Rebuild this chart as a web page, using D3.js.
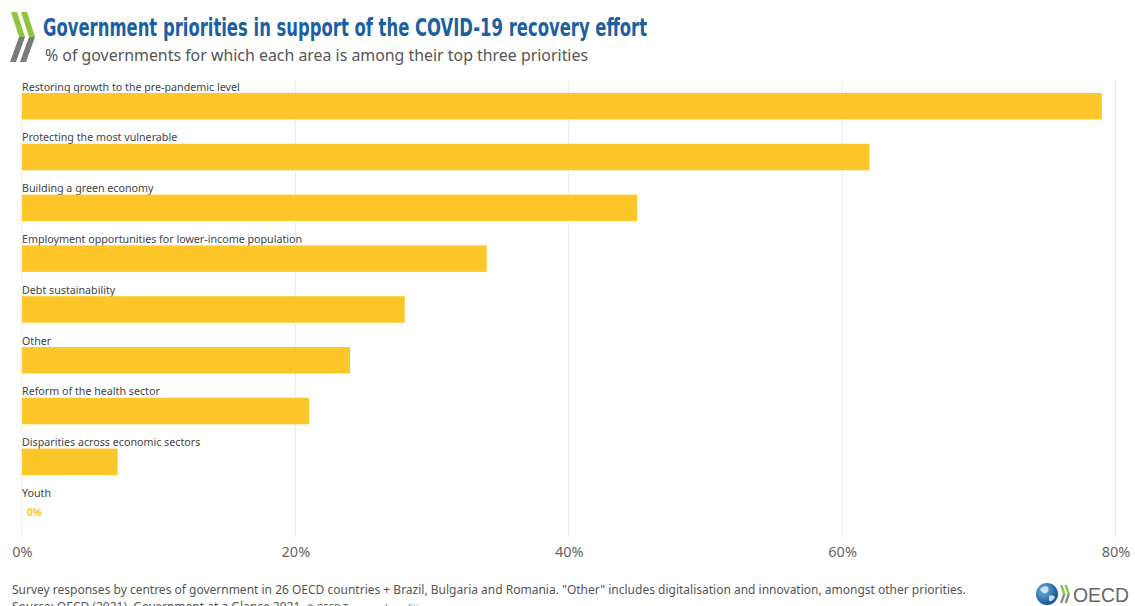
<!DOCTYPE html>
<html lang="en">
<head>
<meta charset="UTF-8">
<title>Government priorities in support of the COVID-19 recovery effort</title>
<script src="https://d3js.org/d3.v7.min.js"></script>
<style>
    body { margin: 0; background: #fff; }
    svg { display: block; }
    .cat { font-family: "Noto Sans", sans-serif; font-size: 10.7px; fill: #444; }
    .tick-label { font-family: "Noto Sans", sans-serif; font-size: 14.5px; fill: #666; }
    .note { font-family: "Noto Sans", sans-serif; font-size: 12px; fill: #555; }
</style>
</head>
<body>
<svg id="chart" width="1135" height="606"></svg>
<script>
    // data (share of governments, %)
    const categories = [
        "Restoring growth to the pre-pandemic level",
        "Protecting the most vulnerable",
        "Building a green economy",
        "Employment opportunities for lower-income population",
        "Debt sustainability",
        "Other",
        "Reform of the health sector",
        "Disparities across economic sectors",
        "Youth"
    ];
    const values = [79, 62, 45, 34, 28, 24, 21, 7, 0];
    const tickValues = [0, 20, 40, 60, 80];

    const titleText = "Government priorities in support of the COVID-19 recovery effort";
    const subtitleText = "% of governments for which each area is among their top three priorities";
    const noteText = "Survey responses by centres of government in 26 OECD countries + Brazil, Bulgaria and Romania. \"Other\" includes digitalisation and innovation, amongst other priorities.";
    const sourceText = "Source: OECD (2021), Government at a Glance 2021.";

    const svg = d3.select("#chart");
    const barColor = "#ffc629";

    const x = d3.scaleLinear().domain([0, 80]).range([22, 1115.5]);
    const y = d3.scaleBand().domain(categories).range([80.5, 537.7]);

    // header logo (two chevrons)
    const logo = svg.append("g");
    [0, 10].forEach(function (dx) {
        logo.append("path")
            .attr("d", `M${11 + dx},12 L${17 + dx},12 L${25 + dx},37 L${19 + dx},37 Z`)
            .attr("fill", "#8cc63f");
        logo.append("path")
            .attr("d", `M${19 + dx},37 L${25 + dx},37 L${16 + dx},62 L${10 + dx},62 Z`)
            .attr("fill", "#7a7a7a");
    });

    svg.append("text")
        .attr("x", 43).attr("y", 36)
        .attr("textLength", 604).attr("lengthAdjust", "spacingAndGlyphs")
        .style("font-family", "'DejaVu Sans Condensed', 'Liberation Sans Narrow', 'Roboto', sans-serif")
        .style("font-stretch", "condensed")
        .style("font-weight", "bold")
        .style("font-size", "25px")
        .style("fill", "#1c5fa3")
        .text(titleText);

    svg.append("text")
        .attr("x", 45).attr("y", 61)
        .style("font-family", "'Noto Sans', sans-serif")
        .style("font-size", "15.9px")
        .style("fill", "#555")
        .text(subtitleText);

    // gridlines
    svg.append("g")
        .selectAll("line")
        .data(tickValues)
        .join("line")
        .attr("x1", d => x(d)).attr("x2", d => x(d))
        .attr("y1", 81).attr("y2", 537)
        .attr("stroke", "#e9e9e9")
        .attr("stroke-width", 1);

    // bars
    const rows = svg.append("g")
        .selectAll("g")
        .data(categories)
        .join("g")
        .attr("transform", d => `translate(0,${y(d)})`);

    rows.append("text")
        .attr("class", "cat")
        .attr("x", 22).attr("y", 10)
        .text(d => d);

    rows.append("rect")
        .attr("x", x(0))
        .attr("y", 12.5)
        .attr("height", 26.5)
        .attr("width", (d, i) => x(values[i]) - x(0))
        .attr("fill", barColor);

    rows.filter((d, i) => values[i] === 0)
        .append("text")
        .attr("x", x(0) + 5).attr("y", 29.5)
        .style("font-family", "'Noto Sans', sans-serif")
        .style("font-size", "10px")
        .style("font-weight", "bold")
        .style("fill", barColor)
        .text((d) => values[categories.indexOf(d)] + "%");

    // x axis labels
    const axis = d3.axisBottom(x)
        .tickValues(tickValues)
        .tickFormat(d => d + "%")
        .tickSize(0)
        .tickPadding(0);
    const ax = svg.append("g").attr("transform", "translate(0,547)").call(axis);
    ax.select(".domain").remove();
    ax.selectAll("text")
        .attr("class", "tick-label")
        .attr("font-family", null).attr("font-size", null)
        .attr("fill", null);

    // footer
    svg.append("text").attr("class", "note")
        .attr("x", 12).attr("y", 594)
        .text(noteText);
    const src = svg.append("text").attr("class", "note")
        .attr("x", 12).attr("y", 611);
    src.append("tspan").text(sourceText + " ");
    src.append("tspan").style("font-size", "9px").text("© OECD Terms and conditions");

    // OECD logo bottom right
    const defs = svg.append("defs");
    const grad = defs.append("radialGradient").attr("id", "globe")
        .attr("cx", "35%").attr("cy", "35%").attr("r", "70%");
    grad.append("stop").attr("offset", "0%").attr("stop-color", "#6fb3e6");
    grad.append("stop").attr("offset", "100%").attr("stop-color", "#0b4f8f");
    const ol = svg.append("g");
    ol.append("circle").attr("cx", 1047).attr("cy", 594).attr("r", 11)
        .attr("fill", "url(#globe)");
    ol.append("path")
        .attr("d", "M1040,589 q4,-4 8,-2 q2,4 -2,6 q-4,1 -6,-4 Z M1049,596 q4,-2 6,1 q-2,5 -6,4 Z")
        .attr("fill", "#e6eef5").attr("opacity", 0.85);
    [0, 4.5].forEach(function (dx) {
        ol.append("path")
            .attr("d", `M${1060 + dx},585 L${1062.5 + dx},585 L${1065.5 + dx},594 L${1063 + dx},594 Z`)
            .attr("fill", "#8cc63f");
        ol.append("path")
            .attr("d", `M${1063 + dx},594 L${1065.5 + dx},594 L${1062.5 + dx},603 L${1060 + dx},603 Z`)
            .attr("fill", "#8a8a8a");
    });
    ol.append("text")
        .attr("x", 1073).attr("y", 602)
        .attr("textLength", 56).attr("lengthAdjust", "spacingAndGlyphs")
        .style("font-family", "'Liberation Sans', Arial, sans-serif")
        .style("font-size", "21px")
        .style("fill", "#666")
        .text("OECD");
</script>
</body>
</html>
